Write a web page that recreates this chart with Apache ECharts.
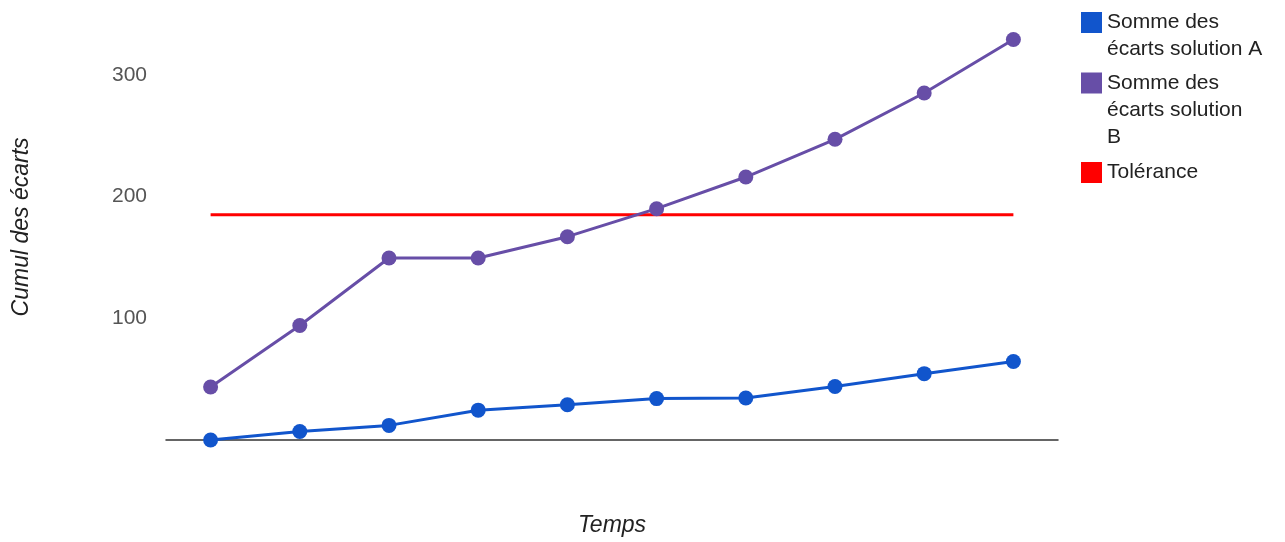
<!DOCTYPE html>
<html>
<head>
<meta charset="utf-8">
<script src="https://cdn.jsdelivr.net/npm/echarts@6/dist/echarts.min.js"></script>
<style>
  html, body { margin: 0; padding: 0; background: #fff; }
  #chart { width: 1285px; height: 542px; }
</style>
</head>
<body>
<div id="chart"></div>
<script>
// Time steps (no labels drawn on the horizontal axis)
const categories = ['1', '2', '3', '4', '5', '6', '7', '8', '9', '10'];

// Cumulative deviations
const seriesA = [0, 7, 12, 24.5, 29, 34, 34.5, 44, 54.5, 64.5];
const seriesB = [43.5, 94, 149.5, 149.5, 167, 190, 216, 247, 285, 329];
const tolerance = [185, 185, 185, 185, 185, 185, 185, 185, 185, 185];

// Value-axis labels that are shown
const yTickLabels = [100, 200, 300];

const nameA = 'Somme des écarts solution A';
const nameB = 'Somme des écarts solution B';
const nameT = 'Tolérance';

const colorA = '#1155cc';
const colorB = '#674ea7';
const colorT = '#ff0000';

const FONT = '"Liberation Sans", Arial, sans-serif';

// Legend entries whose label wraps: the square sits at the top of a taller box
// so that it lines up with the first text line.
function topSquare(h) {
  return 'path://M0,0 H21 V21 H0 Z M10.5,' + (h - 0.01) + ' h0.01 v0.01 h-0.01 Z';
}

const legendText = {
  color: '#222',
  fontFamily: FONT,
  fontSize: 21,
  lineHeight: 27
};

const wrapped = {};
wrapped[nameA] = 'Somme des\nécarts solution A';
wrapped[nameB] = 'Somme des\nécarts solution\nB';
wrapped[nameT] = 'Tolérance';

function legendBlock(name, top, h, icon) {
  return {
    orient: 'vertical',
    left: 1081,
    top: top,
    padding: 0,
    itemWidth: 21,
    itemHeight: h,
    itemGap: 0,
    icon: icon,
    data: [name],
    formatter: n => wrapped[n],
    textStyle: legendText
  };
}

const chart = echarts.init(document.getElementById('chart'), null, { renderer: 'canvas' });

chart.setOption({
  animation: false,
  backgroundColor: '#ffffff',
  grid: {
    left: 166,
    right: 227,
    top: 13.9,
    bottom: 97.5,
    containLabel: false
  },
  legend: [
    legendBlock(nameA, 9, 48, topSquare(48)),
    legendBlock(nameB, 69.5, 75, topSquare(75)),
    legendBlock(nameT, 159, 21, 'rect')
  ],
  xAxis: {
    type: 'category',
    data: categories,
    boundaryGap: true,
    name: 'Temps',
    nameLocation: 'middle',
    nameGap: 74,
    nameTextStyle: {
      color: '#222',
      fontStyle: 'italic',
      fontFamily: FONT,
      fontSize: 23
    },
    axisLine: { show: true, lineStyle: { color: '#333', width: 1.5 } },
    axisTick: { show: false },
    axisLabel: { show: false },
    splitLine: { show: false }
  },
  yAxis: {
    type: 'value',
    min: 0,
    max: 350,
    interval: 100,
    name: 'Cumul des écarts',
    nameLocation: 'middle',
    nameRotate: 90,
    nameGap: 133,
    nameTextStyle: {
      color: '#222',
      fontStyle: 'italic',
      fontFamily: FONT,
      fontSize: 23
    },
    axisLine: { show: false },
    axisTick: { show: false },
    splitLine: { show: false },
    axisLabel: {
      margin: 19,
      color: '#555',
      fontFamily: FONT,
      fontSize: 21,
      formatter: v => (yTickLabels.indexOf(v) >= 0 ? String(v) : '')
    }
  },
  series: [
    {
      name: nameA,
      type: 'line',
      data: seriesA,
      color: colorA,
      symbol: 'circle',
      symbolSize: 15,
      lineStyle: { width: 3, color: colorA },
      itemStyle: { color: colorA },
      z: 3
    },
    {
      name: nameB,
      type: 'line',
      data: seriesB,
      color: colorB,
      symbol: 'circle',
      symbolSize: 15,
      lineStyle: { width: 3, color: colorB },
      itemStyle: { color: colorB },
      z: 2
    },
    {
      name: nameT,
      type: 'line',
      data: tolerance,
      color: colorT,
      showSymbol: false,
      symbol: 'none',
      lineStyle: { width: 3, color: colorT },
      itemStyle: { color: colorT },
      z: 1
    }
  ]
});
</script>
</body>
</html>
